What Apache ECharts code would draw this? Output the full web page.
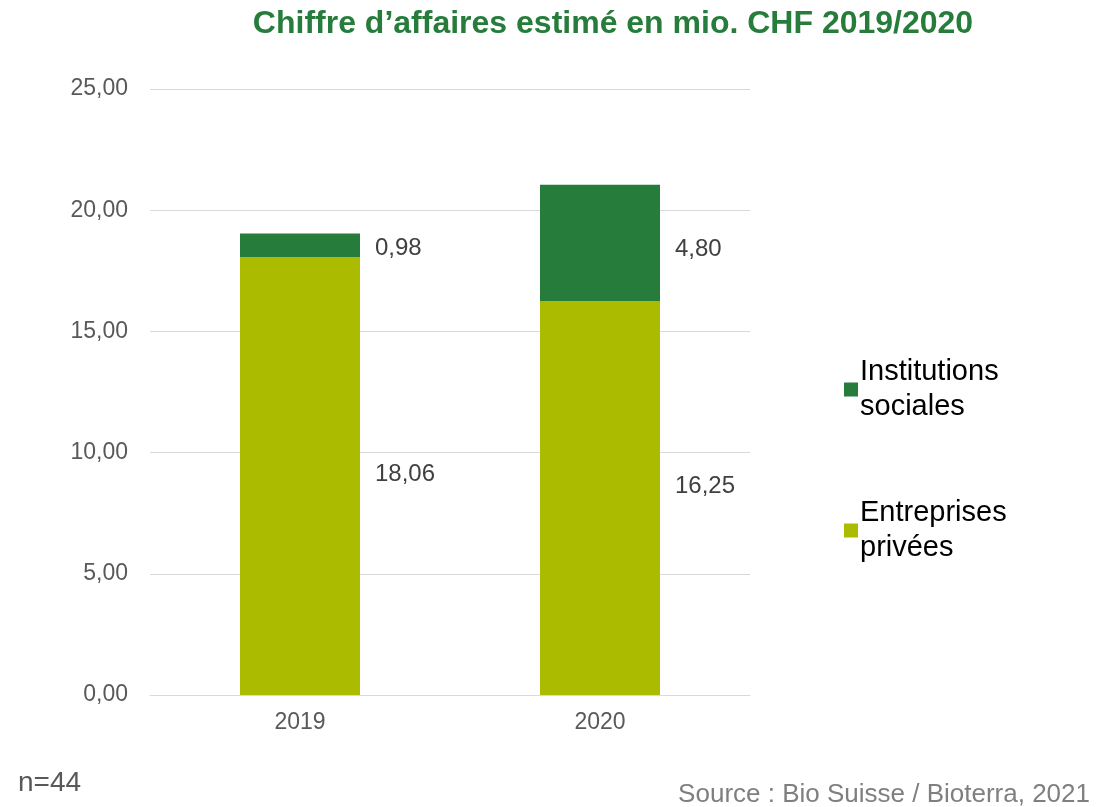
<!DOCTYPE html>
<html>
<head>
<meta charset="utf-8">
<script src="https://cdn.jsdelivr.net/npm/echarts@6/dist/echarts.min.js"></script>
<style>
  html, body { margin: 0; padding: 0; background: #fff; }
  #chart { width: 1119px; height: 807px; }
</style>
</head>
<body>
<div id="chart"></div>
<script>
// données
var years = ['2019', '2020'];
var entreprises = [18.06, 16.25];
var institutions = [0.98, 4.80];
var yTicks = [0, 5, 10, 15, 20, 25];

// petits décalages verticaux des étiquettes (comme dans Excel)
var shiftEntreprises = [-2, -12];
var shiftInstitutions = [3, 6];

var fmt = function (v) { return v.toFixed(2).replace('.', ','); };
var withShift = function (vals, shifts) {
    return vals.map(function (v, i) {
        return { value: v, label: { offset: [0, shifts[i]] } };
    });
};

var myChart = echarts.init(document.getElementById('chart'));
var option = {
    animation: false,
    textStyle: { fontFamily: 'Liberation Sans, Arial, sans-serif' },
    title: {
        text: 'Chiffre d’affaires estimé en mio. CHF 2019/2020',
        left: 608,
        textAlign: 'center',
        top: 3,
        textStyle: { color: '#267C3A', fontSize: 32, fontWeight: 'bold' }
    },
    grid: { left: 150, right: 369, top: 89, bottom: 112 },
    legend: {
        orient: 'vertical',
        left: 839,
        top: 349,
        itemWidth: 14,
        itemHeight: 14,
        itemGap: 70,
        icon: 'rect',
        data: ['Institutions sociales', 'Entreprises privées'],
        formatter: function (n) { return n.replace(' ', '\n'); },
        textStyle: { fontSize: 29, lineHeight: 35.5, color: '#000', padding: [0, 0, 0, -3] }
    },
    xAxis: {
        type: 'category',
        data: years,
        axisLine: { lineStyle: { color: '#d9d9d9', width: 1 } },
        axisTick: { show: false },
        axisLabel: { fontSize: 23, color: '#595959', margin: 16 }
    },
    yAxis: {
        type: 'value',
        min: yTicks[0],
        max: yTicks[yTicks.length - 1],
        interval: 5,
        axisLine: { show: false },
        axisTick: { show: false },
        splitLine: { lineStyle: { color: '#d9d9d9', width: 1 } },
        axisLabel: { fontSize: 23, color: '#595959', margin: 22, formatter: fmt }
    },
    series: [
        {
            name: 'Entreprises privées',
            type: 'bar',
            stack: 'total',
            barWidth: 120,
            itemStyle: { color: '#AABB00' },
            label: {
                show: true, position: 'right', distance: 15,
                fontSize: 24, color: '#404040',
                formatter: function (p) { return fmt(p.value); }
            },
            data: withShift(entreprises, shiftEntreprises)
        },
        {
            name: 'Institutions sociales',
            type: 'bar',
            stack: 'total',
            barWidth: 120,
            itemStyle: { color: '#267C3A' },
            label: {
                show: true, position: 'right', distance: 15,
                fontSize: 24, color: '#404040',
                formatter: function (p) { return fmt(p.value); }
            },
            data: withShift(institutions, shiftInstitutions)
        }
    ],
    graphic: [
        {
            type: 'text', left: 18, top: 769,
            style: { text: 'n=44', fontSize: 28, fill: '#595959', fontFamily: 'Liberation Sans, Arial, sans-serif' }
        },
        {
            type: 'text', right: 29, top: 782,
            style: { text: 'Source : Bio Suisse / Bioterra, 2021', fontSize: 26, fill: '#7f7f7f', fontFamily: 'Liberation Sans, Arial, sans-serif' }
        }
    ]
};
myChart.setOption(option);
</script>
</body>
</html>
